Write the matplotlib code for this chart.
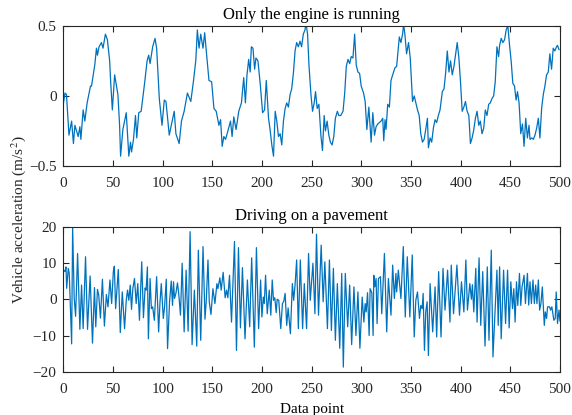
import numpy as np
import matplotlib
matplotlib.use("Agg")
import matplotlib.pyplot as plt

plt.rcParams['font.family'] = ['Liberation Serif', 'DejaVu Serif']
plt.rcParams['mathtext.fontset'] = 'stix'

# engine idling: vehicle acceleration (m/s^2) against data point
idle_x = [0, 1.5, 3, 5.5, 8.2, 10, 11.5, 14.8, 16.5, 17.5, 19.8, 21.5, 23.8, 27.2, 28.2,
          31.5, 33.2, 34.2, 35.8, 38.2, 39.8, 42.2, 44.2, 46.5, 47.5, 49.2, 51.5, 54.8,
          56.5, 57.5, 59.8, 63.2, 65.8, 67.5, 68.5, 70.5, 72.5, 73.8, 75.8, 78.2, 81.5,
          84.2, 85.8, 87.2, 89.8, 92.2, 93.8, 96.5, 99.2, 101.5, 103.2, 106.5, 111.5,
          113.2, 116.5, 118.8, 121.5, 124.8, 128.2, 130.8, 133.2, 134.8, 136.5, 138.2,
          140.5, 142.2, 143.8, 146.5, 149.2, 151.5, 153.8, 156.5, 158.2, 159.8, 161.5,
          163.2, 164.8, 168.2, 169.8, 171.5, 173.8, 176.5, 179.2, 181.5, 183.2, 184.8,
          186.5, 188, 189.2, 190.8, 192.5, 193.8, 195.8, 198.2, 200.5, 202.5, 204.2,
          206.5, 208.2, 209.8, 211.5, 213.2, 214.8, 216.5, 218.2, 219.8, 221.5, 223.2,
          224.8, 226.5, 228.2, 229.8, 231.5, 233.2, 234.8, 236.5, 238.2, 239.8, 241.5,
          243.2, 244.2, 245.8, 247.2, 249.2, 250.8, 252.5, 253.8, 255.5, 257.2, 259.2,
          260.8, 262.5, 263.8, 265.5, 267.2, 268.8, 270.5, 272.2, 273.8, 275.8, 277.2,
          279.2, 281.5, 283.2, 284.8, 286.5, 288.2, 289.8, 291.5, 293.2, 294.8, 296.5,
          298.2, 299.8, 302.2, 303.8, 305.5, 307.5, 309.8, 311.5, 313.2, 314.8, 316.5,
          319.8, 321.5, 322.5, 323.8, 324.8, 326.5, 328.2, 329.8, 331.5, 333.8, 335.5,
          337.2, 338.2, 339.8, 341.5, 342.5, 343.8, 345.5, 347.5, 349.2, 351.5, 353.2,
          354.8, 356.5, 358.2, 359.8, 361.5, 363.2, 364.8, 366.5, 367.5, 369.2, 370.8,
          372.5, 374.2, 375.8, 377.5, 379.2, 381.5, 383.2, 384.8, 386.5, 388.2, 389.8,
          391.5, 393.2, 394.8, 396.5, 398.2, 399.8, 401.5, 403.2, 404.8, 406.5, 408.2,
          409.8, 411.5, 413.2, 414.8, 416.5, 418.2, 419.8, 421.5, 423.2, 424.8, 426.5,
          428.2, 429.8, 431.5, 433.2, 434.8, 436.5, 438.2, 439.2, 440.8, 442.5, 444.2,
          445.8, 447.5, 449.2, 450.8, 452.5, 454.2, 455.8, 457.2, 458.8, 460.5, 462.2,
          463.8, 465.5, 467.2, 468.8, 469.8, 471.5, 473.2, 474.8, 476.5, 478.2, 479.8,
          481.5, 483.2, 484.8, 486.5, 488.2, 489.8, 491.5, 493.2, 494.8, 496.5, 497.5,
          499]
idle_acc = [-0.05, 0.02, 0.01, -0.28, -0.18, -0.34, -0.21, -0.29, -0.22, -0.31, -0.10,
            -0.18, -0.05, 0.07, 0.07, 0.22, 0.34, 0.29, 0.35, 0.38, 0.34, 0.44, 0.40, 0.25,
            0.10, -0.10, 0.15, 0.01, -0.21, -0.43, -0.24, -0.12, -0.43, -0.33, -0.40, -0.31,
            -0.14, -0.30, -0.12, -0.11, 0.08, 0.25, 0.29, 0.23, 0.35, 0.41, 0.34, -0.02,
            -0.21, -0.03, -0.04, -0.28, -0.11, -0.27, -0.34, -0.18, -0.11, 0.02, -0.04,
            0.10, 0.25, 0.47, 0.34, 0.44, 0.34, 0.45, 0.32, 0.11, 0.10, -0.09, -0.11,
            -0.21, -0.17, -0.36, -0.29, -0.31, -0.27, -0.18, -0.29, -0.15, -0.24, -0.11,
            -0.05, 0.13, -0.05, 0.15, 0.26, 0.17, 0.35, 0.34, 0.19, 0.27, 0.25, 0.08,
            -0.12, -0.10, 0.11, -0.16, -0.25, -0.35, -0.43, -0.11, -0.18, -0.29, -0.27,
            -0.35, -0.18, -0.09, -0.05, -0.08, 0.01, 0.05, 0.16, 0.32, 0.38, 0.35, 0.39,
            0.35, 0.44, 0.47, 0.52, 0.44, 0.22, 0.01, -0.11, -0.05, 0.03, -0.09, -0.06,
            -0.28, -0.39, -0.14, -0.25, -0.18, -0.28, -0.33, -0.35, -0.29, -0.16, -0.11,
            -0.14, -0.14, -0.11, 0.02, 0.21, 0.26, 0.23, 0.28, 0.27, 0.44, 0.22, 0.17,
            0.16, 0.07, 0.02, -0.04, -0.24, -0.08, -0.33, -0.12, -0.28, -0.22, -0.20,
            -0.18, -0.16, -0.32, -0.17, -0.24, -0.06, -0.08, 0.11, 0.15, 0.20, 0.21, 0.34,
            0.42, 0.38, 0.44, 0.51, 0.44, 0.30, 0.38, 0.27, -0.04, 0.00, -0.05, -0.10,
            -0.14, -0.27, -0.33, -0.31, -0.24, -0.16, -0.37, -0.30, -0.33, -0.23, -0.17,
            -0.19, -0.14, -0.10, 0.03, 0.05, 0.16, 0.32, 0.17, 0.25, 0.15, 0.21, 0.29,
            0.38, 0.27, 0.10, -0.11, -0.08, -0.04, -0.11, -0.14, -0.34, -0.30, -0.24,
            -0.16, -0.11, -0.21, -0.18, -0.27, -0.23, -0.10, -0.14, -0.06, -0.05, -0.02,
            0.00, 0.10, 0.35, 0.28, 0.36, 0.41, 0.38, 0.40, 0.47, 0.50, 0.36, 0.25, 0.09,
            0.07, -0.03, 0.03, -0.05, -0.27, -0.20, -0.36, -0.16, -0.30, -0.21, -0.31,
            -0.30, -0.31, -0.28, -0.23, -0.16, -0.30, -0.09, 0.01, 0.07, 0.15, 0.17, 0.30,
            0.19, 0.34, 0.32, 0.35, 0.36, 0.33]

# driving on pavement
road_x = [0, 1.5, 2.5, 3.2, 4.8, 5.8, 8.2, 9.2, 10.8, 12.2, 14.2, 16.5, 18.2, 19.8, 22.2,
          24.2, 26.8, 29.2, 31.2, 32.5, 34.2, 35.5, 37.2, 39.2, 41.2, 43.2, 44.8, 46.8,
          48.5, 50.2, 51.2, 52.5, 55.2, 57.2, 59.2, 61.5, 63.2, 64.5, 65.8, 67.2, 68.5,
          69.8, 71.5, 73.2, 74.8, 76.5, 78.8, 80.5, 82.2, 83.2, 84.5, 85.5, 87.2, 88.5,
          89.8, 91.5, 93.8, 95.8, 97.2, 98.5, 100.5, 101.8, 103.5, 104.8, 106.8, 108.5,
          109.8, 110.8, 111.8, 113.2, 114.8, 116.2, 117.8, 119.5, 121.5, 123.5, 125.5,
          127.5, 129.5, 131.8, 134.2, 135.8, 138.2, 140.5, 142.5, 143.8, 145.5, 146.8,
          148.5, 150.5, 152.5, 154.5, 155.5, 157.5, 158.8, 160.8, 162.8, 164.2, 165.5,
          167.2, 169.2, 172.2, 174.2, 176.2, 178.2, 180.2, 182.8, 185.2, 187.5, 189.5,
          192.2, 194.3, 196.5, 198.5, 199.8, 201.2, 202.2, 203.5, 205.2, 207.2, 208.8,
          210.2, 211.5, 212.8, 214.2, 215.2, 216.8, 218.8, 220.5, 221.8, 223.2, 224.8,
          226.2, 228.5, 230.5, 231.8, 233.2, 234.8, 236.5, 238.5, 240.8, 242.5, 244.8,
          246.8, 248.5, 251.2, 253.2, 254.8, 256.8, 259.5, 261.5, 263.2, 265.8, 267.8,
          269.8, 271.8, 273.8, 275.8, 278.2, 280.2, 281.8, 283.8, 286.2, 288.2, 290.2,
          292.5, 294.5, 296.5, 298.5, 300.8, 302.5, 303.8, 304.8, 306.2, 307.8, 308.8,
          310.5, 311.8, 312.5, 313.5, 314.8, 315.8, 317.2, 319.2, 320.5, 323.2, 325.5,
          327.2, 329.8, 331.5, 333.2, 334.8, 335.5, 337.2, 339.8, 342.2, 344.2, 346.2,
          348.8, 351.2, 353.2, 354.8, 356.5, 358.5, 359.8, 361.2, 362.2, 363.5, 364.8,
          366.2, 367.5, 369.2, 371.8, 374.2, 375.8, 377.8, 380.2, 382.2, 384.2, 386.8,
          389.2, 390.5, 392.8, 396.2, 398.8, 400.8, 403.2, 405.2, 406.8, 409.2, 410.8,
          411.8, 413.2, 415.2, 416.5, 418.5, 420.2, 422.2, 424.5, 426.8, 428.5, 430.8,
          432.5, 435.2, 436.5, 437.8, 439.2, 440.8, 443.2, 445.2, 447.2, 448.8, 450.5,
          452.2, 453.5, 454.8, 456.2, 457.5, 459.2, 460.5, 461.8, 463.8, 465.2, 466.5,
          467.2, 468.5, 469.8, 471.2, 472.8, 474.2, 475.5, 476.8, 478.2, 479.5, 480.8,
          482.2, 484.2, 485.2, 486.5, 487.5, 489.5, 490.5, 491.8, 493.8, 495.2, 496.2,
          497.5, 499, 500]
road_acc = [8.0, 7.6, 8.9, 3.0, 8.5, 7.1, -12.3, 19.7, 0.2, -4.7, 12.6, -8.3, 3.9, -8.1,
            11.7, -8.3, 6.4, -12.1, 3.2, -7.6, 2.7, 1.1, -5.2, 5.5, -7.4, 1.3, -2.1, 5.3,
            -1.2, 7.6, 9.1, -2.6, 8.2, -9.2, 2.0, -8.1, -0.3, 2.5, -0.3, 3.9, -2.8, 2.9,
            5.7, -1.2, 4.3, -5.8, 10.3, -5.1, 3.1, 2.5, 8.9, -10.9, 5.7, -2.6, -2.1, -5.8,
            6.2, -9.0, -0.7, 4.3, -5.3, -2.1, 5.5, -13.6, -0.7, 5.0, -1.7, 4.8, 0.2, 1.6,
            4.5, 1.1, -4.4, 9.9, -9.0, 8.0, -8.8, 18.6, -12.5, 2.5, -12.9, 13.5, -11.3,
            14.5, -5.5, -0.3, 10.8, -0.7, -4.2, 2.9, -1.2, 4.3, 2.9, 5.9, 2.5, 7.4, 0.4,
            2.5, 0.4, 6.6, -6.3, 15.9, -14.1, 14.2, -7.9, 8.7, -10.9, 5.3, -7.6, 11.4,
            -13.2, 14.2, -8.1, 5.3, -4.9, 0.6, -1.2, 6.6, -4.0, 2.5, -4.4, 5.3, -0.3, 0.4,
            -3.7, 0.0, -0.3, -8.1, -1.2, -0.6, 1.6, -7.2, -2.4, -9.5, 4.3, -0.3, 3.9, 10.8,
            -8.1, 10.8, -8.1, 4.3, -8.1, 12.6, -0.3, 9.9, -4.0, 17.9, -4.4, 14.9, -0.7,
            10.3, -8.1, 10.8, -8.6, 8.5, -11.3, 4.3, -13.5, 7.1, -18.7, 7.1, -7.6, 3.9,
            -12.5, 3.4, -10.0, 2.0, -13.5, 0.6, -6.3, -1.2, -3.5, 1.8, -10.0, 2.9, 1.8,
            -10.0, 6.6, 3.4, 5.7, -6.7, 5.7, 6.2, -4.0, 12.6, -9.0, 5.7, -4.4, 9.4, 0.2,
            7.1, 2.0, 8.0, 0.2, 14.5, -4.9, 11.7, -4.9, 12.2, -10.4, -0.3, 2.0, -5.3, -1.7,
            -2.6, 1.6, -14.1, -3.5, -0.7, -15.5, 4.3, -9.0, 3.4, -10.4, 7.6, -10.4, 8.5,
            -3.0, 8.0, -6.3, 9.4, -4.0, 9.4, -4.4, 4.8, -3.5, 10.8, -3.0, 4.3, 0.0, 4.0,
            -3.5, 8.5, -6.3, 11.4, -7.2, 7.6, -12.9, 8.9, -11.3, 13.5, -15.9, 0.6, 8.0,
            -7.2, 8.9, -10.9, 8.0, -6.7, 8.0, -7.9, 4.8, -2.6, 2.9, -6.3, 4.8, -1.7, 7.1,
            -1.7, 3.4, 6.6, -1.2, 4.3, 7.1, -1.6, 4.8, -1.2, 5.3, -1.2, 3.9, -1.2, 5.3,
            -3.0, -1.2, 3.4, -7.2, -3.5, -5.3, -2.1, -2.1, -3.0, -2.1, -5.8, -5.3, 2.0,
            -6.7, -3.0, -6.0]

line_color = '#0072BD'
axis_color = '#262626'

fig = plt.figure(figsize=(5.72, 4.15), dpi=100)
ax1 = fig.add_axes([0.111, 0.600, 0.868, 0.338])
ax2 = fig.add_axes([0.111, 0.104, 0.868, 0.350])

ax1.plot(idle_x, idle_acc, color=line_color, lw=0.9)
ax1.set_xlim(0, 500)
ax1.set_ylim(-0.5, 0.5)
ax1.set_yticks([-0.5, 0, 0.5])
ax1.set_yticklabels(['\u22120.5', '0', '0.5'])
ax1.set_title('Only the engine is running', fontsize=12, pad=5)

ax2.plot(road_x, road_acc, color=line_color, lw=0.9)
ax2.set_xlim(0, 500)
ax2.set_ylim(-20, 20)
ax2.set_yticks([-20, -10, 0, 10, 20])
ax2.set_yticklabels(['\u221220', '\u221210', '0', '10', '20'])
ax2.set_title('Driving on a pavement', fontsize=12, pad=5)
ax2.set_xlabel('Data point', fontsize=11, labelpad=5)

for ax in (ax1, ax2):
    ax.set_xticks(np.arange(0, 501, 50))
    ax.tick_params(direction='in', top=True, right=True, length=4, width=0.8,
                   colors=axis_color, labelsize=11)
    ax.tick_params(axis='x', pad=8)
    ax.tick_params(axis='y', pad=5)
    for s in ax.spines.values():
        s.set_color(axis_color)
        s.set_linewidth(0.8)

fig.text(0.032, 0.47, 'Vehicle acceleration (m/s$^2$)', rotation=90,
         ha='center', va='center', fontsize=11, color=axis_color)

fig.savefig('out.png', dpi=100)
